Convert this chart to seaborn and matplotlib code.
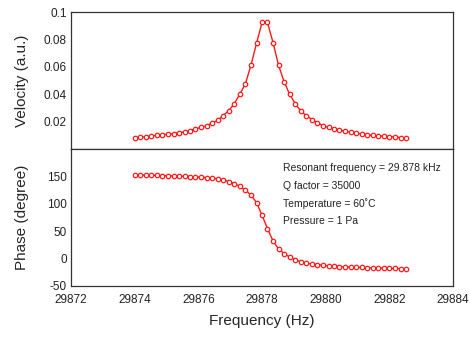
"""
plot.py - resonance curve: velocity amplitude and phase vs drive frequency
"""

import numpy as np
import pandas as pd
import matplotlib
matplotlib.use('Agg')
import matplotlib.pyplot as plt
from matplotlib.ticker import FuncFormatter
import seaborn as sns

# ============================================================
# DATA
# ============================================================

freq_hz = [
    29874.00, 29874.17, 29874.35, 29874.52, 29874.70, 29874.87,
    29875.04, 29875.22, 29875.39, 29875.57, 29875.74, 29875.91,
    29876.09, 29876.26, 29876.43, 29876.61, 29876.78, 29876.96,
    29877.13, 29877.30, 29877.48, 29877.65, 29877.83, 29878.00,
    29878.17, 29878.35, 29878.52, 29878.70, 29878.87, 29879.04,
    29879.22, 29879.39, 29879.57, 29879.74, 29879.91, 29880.09,
    29880.26, 29880.43, 29880.61, 29880.78, 29880.96, 29881.13,
    29881.30, 29881.48, 29881.65, 29881.83, 29882.00, 29882.17,
    29882.35, 29882.52,
]

velocity_au = [
    0.0081, 0.0085, 0.0090, 0.0095, 0.0100, 0.0105,
    0.0107, 0.0112, 0.0119, 0.0125, 0.0134, 0.0147,
    0.0158, 0.0171, 0.0188, 0.0210, 0.0244, 0.0281,
    0.0332, 0.0398, 0.0478, 0.0610, 0.0774, 0.0925,
    0.0925, 0.0774, 0.0610, 0.0488, 0.0398, 0.0332,
    0.0276, 0.0244, 0.0215, 0.0190, 0.0171, 0.0158,
    0.0147, 0.0139, 0.0129, 0.0122, 0.0114, 0.0110,
    0.0105, 0.0100, 0.0097, 0.0092, 0.0090, 0.0088,
    0.0083, 0.0078,
]

phase_deg = [
    153.0, 152.6, 152.4, 152.0, 151.7, 151.4,
    151.0, 150.7, 150.3, 150.0, 149.5, 149.0,
    148.4, 147.7, 146.8, 145.5, 143.4, 140.5,
    136.7, 131.5, 125.0, 115.8, 101.8, 79.0,
    54.6, 31.2, 17.3, 8.5, 2.5, -2.4,
    -6.1, -8.5, -10.3, -11.6, -12.7, -13.5,
    -14.2, -14.8, -15.3, -15.8, -16.2, -16.6,
    -17.0, -17.3, -17.6, -17.9, -18.2, -18.4,
    -18.6, -18.8,
]

x_ticks = [29872, 29874, 29876, 29878, 29880, 29882, 29884]
vel_ticks = [0.02, 0.04, 0.06, 0.08, 0.1]
phase_ticks = [-50, 0, 50, 100, 150]

notes = [
    'Resonant frequency = 29.878 kHz',
    'Q factor = 35000',
    'Temperature = 60\u02daC',
    'Pressure = 1 Pa',
]

df = pd.DataFrame({'freq': freq_hz, 'velocity': velocity_au, 'phase': phase_deg})

# ============================================================
# STYLE
# ============================================================

sns.set_style('white')
plt.rcParams['font.family'] = ['Liberation Sans', 'DejaVu Sans']
plt.rcParams['axes.unicode_minus'] = False
plt.rcParams['xtick.direction'] = 'in'
plt.rcParams['ytick.direction'] = 'in'

line_kw = dict(color='#ff1a1a', linewidth=1.0, marker='o', markersize=3.2,
               markerfacecolor='white', markeredgecolor='#ff1a1a',
               markeredgewidth=0.9)

fig, (ax_v, ax_p) = plt.subplots(2, 1, figsize=(4.70, 3.37), dpi=100, sharex=True)
fig.subplots_adjust(left=0.151, right=0.964, top=0.964, bottom=0.152, hspace=0)

# ============================================================
# VELOCITY
# ============================================================

sns.lineplot(data=df, x='freq', y='velocity', ax=ax_v, **line_kw)
ax_v.set_ylim(0, 0.1)
ax_v.set_yticks(vel_ticks)
ax_v.yaxis.set_major_formatter(FuncFormatter(lambda v, p: f'{v:g}'))
ax_v.set_ylabel('Velocity (a.u.)', fontsize=11)
ax_v.set_xlabel('')

# ============================================================
# PHASE
# ============================================================

sns.lineplot(data=df, x='freq', y='phase', ax=ax_p, **line_kw)
ax_p.set_ylim(-50, 200)
ax_p.set_yticks(phase_ticks)
ax_p.set_ylabel('Phase (degree)', fontsize=11)
ax_p.set_xlim(29872, 29884)
ax_p.set_xticks(x_ticks)
ax_p.xaxis.set_major_formatter(FuncFormatter(lambda v, p: f'{v:.0f}'))
ax_p.set_xlabel('Frequency (Hz)', fontsize=11, labelpad=6)

for i, txt in enumerate(notes):
    ax_p.text(0.554, 0.862 - i * 0.13, txt, transform=ax_p.transAxes,
              fontsize=7.5, va='center', ha='left', color='#222222')

for ax in (ax_v, ax_p):
    for sp in ax.spines.values():
        sp.set_color('#333333')
        sp.set_linewidth(0.9)
    ax.tick_params(axis='both', labelsize=8.5, length=3, width=0.8,
                   colors='#333333', labelcolor='#222222')
    ax.tick_params(axis='x', pad=6)
    ax.tick_params(axis='y', pad=3)
    ax.yaxis.set_label_coords(-0.11, 0.5)

plt.savefig('out.png', dpi=100)
print('saved out.png')
